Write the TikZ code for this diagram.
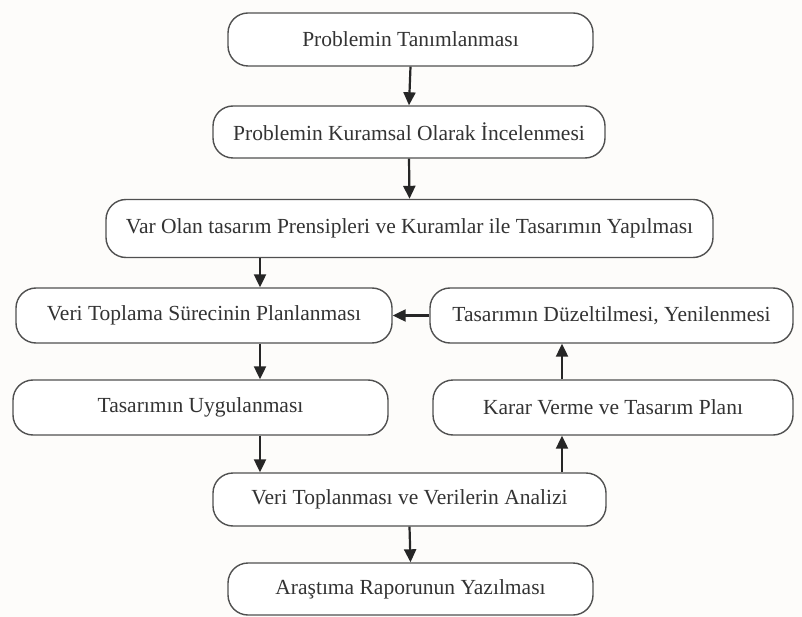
\documentclass[tikz,border=0pt]{standalone}
\usepackage{fontspec}
\setmainfont{Liberation Serif}
\usetikzlibrary{arrows.meta}
\definecolor{bg}{HTML}{FDFCFA}
\definecolor{edge}{HTML}{505050}
\definecolor{txt}{HTML}{333333}
\tikzset{
  stepbox/.style={draw=edge, line width=1.4pt, rounded corners=20pt, fill=white,
    inner sep=0pt, text=txt, font=\fontsize{21.5}{25}\selectfont},
  arr/.style={draw=black!85, line width=2.2pt, -{Triangle[length=13pt,width=12pt]}}
}
\begin{document}
\begin{tikzpicture}[x=1pt,y=-1pt]
\fill[bg] (0,0) rectangle (802,617);
\useasboundingbox (0,0) rectangle (802,617);
\node[stepbox, minimum width=365pt, minimum height=53pt] (b1) at (410.5,39.5) {Problemin Tanımlanması};
\node[stepbox, minimum width=392pt, minimum height=52pt] (b2) at (409,132) {Problemin Kuramsal Olarak İncelenmesi};
\node[stepbox, minimum width=607pt, minimum height=58pt] (b3) at (409.5,228.5) {Var Olan tasarım Prensipleri ve Kuramlar ile Tasarımın Yapılması};
\node[stepbox, minimum width=376pt, minimum height=55pt] (b4) at (204,315.5) {Veri Toplama Sürecinin Planlanması};
\node[stepbox, minimum width=363pt, minimum height=55pt] (b5) at (611.5,315.5) {Tasarımın Düzeltilmesi, Yenilenmesi};
\node[stepbox, minimum width=375pt, minimum height=55pt] (b6) at (200.5,407.5) {Tasarımın Uygulanması};
\node[stepbox, minimum width=360pt, minimum height=55pt] (b7) at (613,407.5) {Karar Verme ve Tasarım Planı};
\node[stepbox, minimum width=393pt, minimum height=53pt] (b8) at (409.5,499.5) {Veri Toplanması ve Verilerin Analizi};
\node[stepbox, minimum width=365pt, minimum height=52pt] (b9) at (410.5,589) {Araştıma Raporunun Yazılması};
\coordinate (xl) at (260,0);
\coordinate (xr) at (562,0);
\draw[arr] (b1.south) -- (b2.north);
\draw[arr] (b2.south) -- (b3.north);
\draw[arr] (b3.south -| xl) -- (b4.north -| xl);
\draw[arr] (b4.south -| xl) -- (b6.north -| xl);
\draw[arr] (b6.south -| xl) -- (b8.north -| xl);
\draw[arr] (b8.north -| xr) -- (b7.south -| xr);
\draw[arr] (b7.north -| xr) -- (b5.south -| xr);
\draw[arr] (b5.west) -- (b4.east);
\draw[arr] (b8.south) -- (b9.north);
\end{tikzpicture}
\end{document}
